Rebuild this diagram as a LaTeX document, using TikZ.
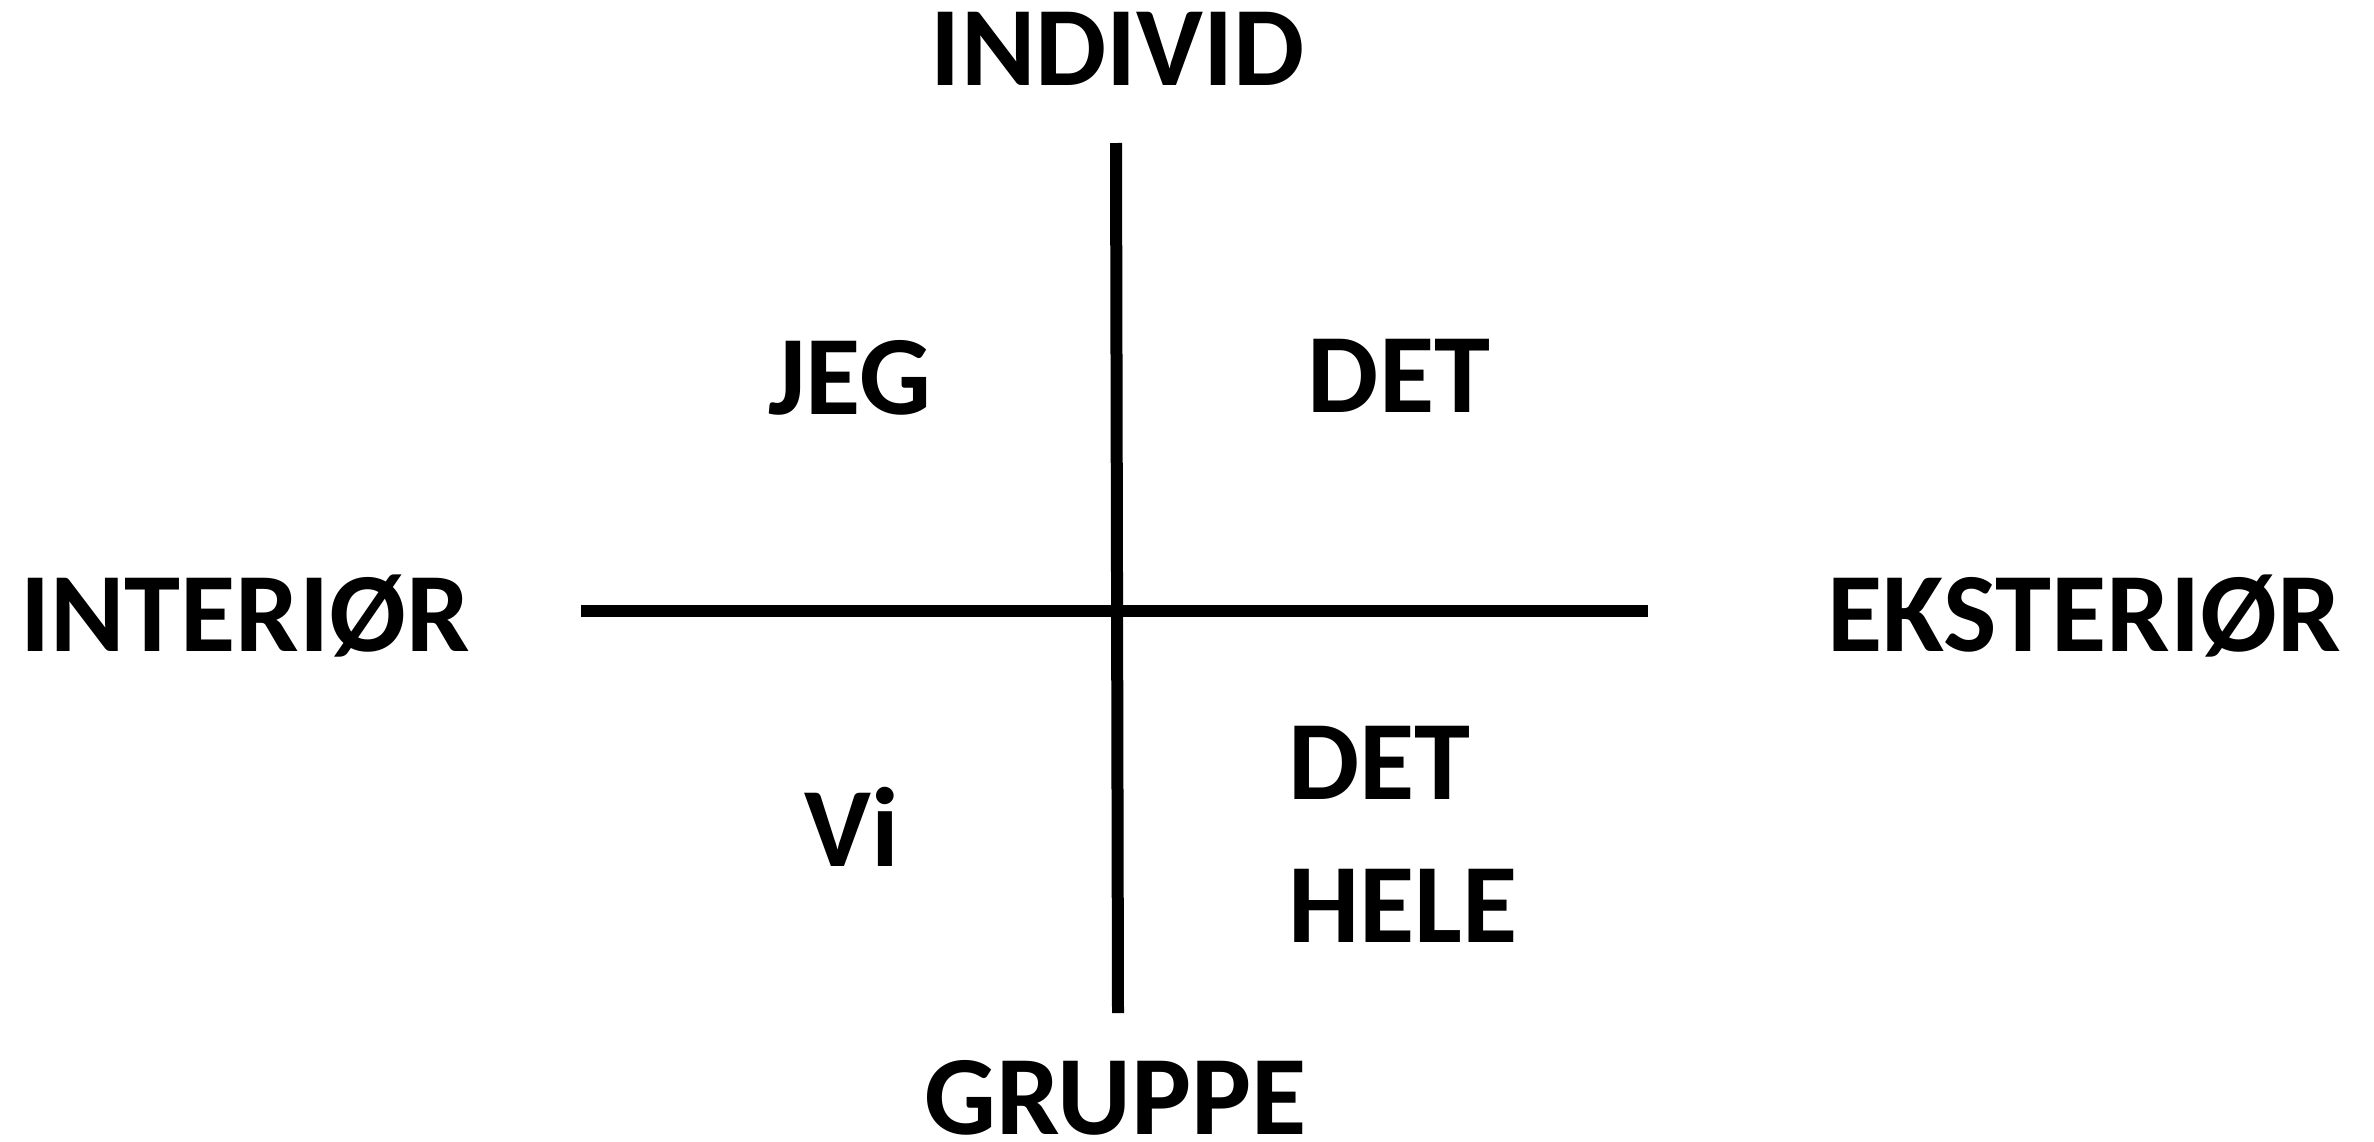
\documentclass[tikz,border=0pt]{standalone}
\usepackage{fontspec}
\setmainfont{Carlito}
\begin{document}
\begin{tikzpicture}[x=1pt,y=-1pt,
  lbl/.style={inner sep=0pt, anchor=base, font=\bfseries\fontsize{113}{134}\selectfont},
  lblw/.style={lbl, anchor=base west},
  axis/.style={line width=12pt, black}]
\useasboundingbox[fill=white] (0,0) rectangle (2374,1141);
\coordinate (vt) at (1116,143);
\coordinate (vb) at (1118,1013);
\coordinate (hl) at (581,611);
\coordinate (hr) at (1648,611);
\draw[axis] (vt) -- (vb);
\draw[axis] (hl) -- (hr);
\node[lbl] (individ) at (1118,85) {INDIVID};
\node[lbl] (gruppe) at (1116,1134) {GRUPPE};
\node[lbl] (interior) at (245,651) {INTERIØR};
\node[lbl] (eksterior) at (2084,651) {EKSTERIØR};
\node[lbl] (jeg) at (850,414) {JEG};
\node[lbl] (det) at (1399,412) {DET};
\node[lbl] (vi) at (852,866) {Vi};
\node[lblw] (det2) at (1288,799) {DET};
\node[lblw] (hele) at (1288,942) {HELE};
\end{tikzpicture}
\end{document}
